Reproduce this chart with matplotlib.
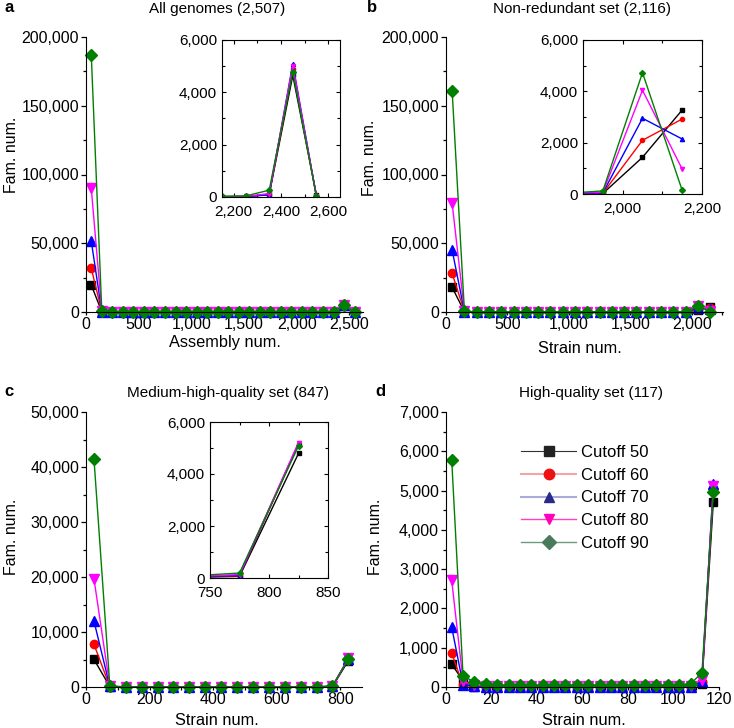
import numpy as np
import matplotlib
matplotlib.use('Agg')
import matplotlib.pyplot as plt
from matplotlib.ticker import MultipleLocator, FuncFormatter
from matplotlib.lines import Line2D

plt.rcParams['font.family'] = ['Liberation Sans', 'DejaVu Sans']
plt.rcParams['font.size'] = 11

W, H = 734, 728

# 컷오프 이름 / 색
cutoffs = ['Cutoff 50', 'Cutoff 60', 'Cutoff 70', 'Cutoff 80', 'Cutoff 90']
colors = ['black', '#ff0000', '#0000ff', '#ff00ff', '#008000']
markers = ['s', 'o', '^', 'v', 'D']
msizes = [5.5, 6, 6.5, 6.5, 6]

# a: All genomes (2,507), 100개 단위 구간
x_a = [50, 150, 250, 350, 450, 550, 650, 750, 850, 950, 1050, 1150, 1250,
       1350, 1450, 1550, 1650, 1750, 1850, 1950, 2050, 2150, 2250, 2350, 2450, 2550]
a_50 = [19600, 200, 8, 4, 4, 4, 4, 4, 4, 4, 4, 4, 4, 4, 4, 4, 4, 4, 4, 4, 5, 8, 15, 100, 4650, 80]
a_60 = [31800, 250, 10, 5, 5, 5, 5, 5, 5, 5, 5, 5, 5, 5, 5, 5, 5, 5, 5, 5, 6, 10, 20, 90, 4900, 40]
a_70 = [51600, 300, 15, 8, 8, 8, 8, 8, 8, 8, 8, 8, 8, 8, 8, 8, 8, 8, 8, 8, 8, 10, 20, 80, 5090, 20]
a_80 = [90000, 400, 20, 10, 10, 10, 10, 10, 10, 10, 10, 10, 10, 10, 10, 10, 10, 10, 10, 10, 10, 15, 25, 130, 5020, 30]
a_90 = [187000, 600, 30, 20, 20, 20, 20, 20, 20, 20, 20, 20, 20, 20, 20, 20, 20, 20, 20, 20, 20, 30, 40, 260, 4780, 30]

# b: Non-redundant set (2,116)
x_b = [50, 150, 250, 350, 450, 550, 650, 750, 850, 950, 1050, 1150, 1250,
       1350, 1450, 1550, 1650, 1750, 1850, 1950, 2050, 2150]
b_50 = [17900, 200, 8, 4, 4, 4, 4, 4, 4, 4, 4, 4, 4, 4, 4, 4, 4, 4, 4, 20, 1430, 3273]
b_60 = [28100, 250, 10, 5, 5, 5, 5, 5, 5, 5, 5, 5, 5, 5, 5, 5, 5, 5, 6, 30, 2092, 2922]
b_70 = [45000, 300, 15, 8, 8, 8, 8, 8, 8, 8, 8, 8, 8, 8, 8, 8, 8, 8, 8, 40, 2950, 2143]
b_80 = [79000, 400, 20, 10, 10, 10, 10, 10, 10, 10, 10, 10, 10, 10, 10, 10, 10, 10, 20, 65, 4040, 974]
b_90 = [160800, 600, 30, 20, 20, 20, 20, 20, 20, 20, 20, 20, 20, 20, 20, 20, 20, 20, 20, 120, 4726, 144]

# c: Medium-high-quality set (847), 50개 단위
x_c = [25, 75, 125, 175, 225, 275, 325, 375, 425, 475, 525, 575, 625, 675, 725, 775, 825]
c_50 = [5030, 60, 10, 8, 8, 8, 8, 8, 8, 8, 8, 8, 8, 8, 20, 60, 4790]
c_60 = [7760, 80, 15, 10, 10, 10, 10, 10, 10, 10, 10, 10, 10, 10, 30, 80, 5150]
c_70 = [12000, 100, 20, 12, 12, 12, 12, 12, 12, 12, 12, 12, 12, 12, 35, 100, 5180]
c_80 = [19700, 120, 25, 15, 15, 15, 15, 15, 15, 15, 15, 15, 15, 15, 45, 130, 5210]
c_90 = [41530, 180, 40, 30, 30, 30, 30, 30, 30, 30, 30, 30, 30, 30, 60, 190, 5080]

# d: High-quality set (117), 5개 단위
x_d = [2.5, 7.5, 12.5, 17.5, 22.5, 27.5, 32.5, 37.5, 42.5, 47.5, 52.5, 57.5,
       62.5, 67.5, 72.5, 77.5, 82.5, 87.5, 92.5, 97.5, 102.5, 107.5, 112.5, 117.5]
d_50 = [578, 160, 10, 5, 5, 5, 5, 5, 5, 5, 5, 5, 5, 5, 5, 5, 5, 5, 5, 5, 5, 8, 86, 4709]
d_60 = [865, 40, 15, 8, 8, 8, 8, 8, 8, 8, 8, 8, 8, 8, 8, 8, 8, 8, 8, 8, 8, 10, 120, 5040]
d_70 = [1527, 60, 20, 10, 10, 10, 10, 10, 10, 10, 10, 10, 10, 10, 10, 10, 10, 10, 10, 10, 10, 5, 150, 5177]
d_80 = [2716, 150, 40, 25, 20, 20, 20, 20, 20, 20, 20, 20, 20, 20, 20, 20, 20, 20, 20, 20, 20, 30, 188, 5109]
d_90 = [5790, 280, 127, 69, 50, 40, 40, 40, 40, 40, 40, 40, 40, 40, 40, 40, 40, 40, 40, 40, 45, 86, 356, 4964]


def rect(l, t, r, b):
    # 픽셀 좌표 -> figure 좌표
    return [l / W, 1 - b / H, (r - l) / W, (b - t) / H]


comma = FuncFormatter(lambda v, p: f'{int(round(v)):,}')


def mainAxes(fig, box, x, ys, xmax, xmaj, xmin, ymax, ymaj, ymin):
    ax = fig.add_axes(box)
    for y, c, m, ms in zip(ys, colors, markers, msizes):
        ax.plot(x, y, color=c, marker=m, ms=ms, lw=1.0, clip_on=False)
    ax.set_xlim(0, xmax)
    ax.set_ylim(0, ymax)
    ax.spines['top'].set_visible(False)
    ax.spines['right'].set_visible(False)
    ax.xaxis.set_major_locator(MultipleLocator(xmaj))
    ax.xaxis.set_minor_locator(MultipleLocator(xmin))
    ax.yaxis.set_major_locator(MultipleLocator(ymaj))
    ax.yaxis.set_minor_locator(MultipleLocator(ymin))
    ax.xaxis.set_major_formatter(comma)
    ax.yaxis.set_major_formatter(comma)
    ax.tick_params(which='both', direction='out', width=0.9, labelsize=11.5)
    ax.tick_params(axis='x', which='major', length=2.5, pad=0.8)
    ax.tick_params(axis='y', which='major', length=3.5, pad=1.5)
    ax.tick_params(which='minor', length=2)
    return ax


def insetAxes(fig, box, x, ys, xlo, xhi, xmaj, xmin):
    ax = fig.add_axes(box)
    for y, c, m in zip(ys, colors, markers):
        ax.plot(x, y, color=c, marker=m, ms=3, lw=1.0)
    ax.set_xlim(xlo, xhi)
    ax.set_ylim(0, 6000)
    ax.xaxis.set_major_locator(MultipleLocator(xmaj))
    ax.xaxis.set_minor_locator(MultipleLocator(xmin))
    ax.yaxis.set_major_locator(MultipleLocator(2000))
    ax.yaxis.set_minor_locator(MultipleLocator(1000))
    ax.xaxis.set_major_formatter(comma)
    ax.yaxis.set_major_formatter(comma)
    ax.tick_params(which='both', direction='in', top=True, right=True, width=0.8, labelsize=11)
    ax.tick_params(which='major', length=3)
    ax.tick_params(axis='x', which='major', pad=6)
    ax.tick_params(axis='y', which='major', pad=3.5)
    ax.tick_params(which='minor', length=2)
    return ax


fig = plt.figure(figsize=(W / 100, H / 100), dpi=100)

# a
mainAxes(fig, rect(86, 37, 363, 312), x_a, [a_50, a_60, a_70, a_80, a_90],
         2630, 500, 250, 200000, 50000, 25000)
insetAxes(fig, rect(222, 40, 340, 197), x_a, [a_50, a_60, a_70, a_80, a_90],
          2150, 2650, 200, 100)

# b
mainAxes(fig, rect(446, 37, 723, 312), x_b, [b_50, b_60, b_70, b_80, b_90],
         2255, 500, 250, 200000, 50000, 25000)
insetAxes(fig, rect(583, 40, 702, 194), x_b, [b_50, b_60, b_70, b_80, b_90],
          1900, 2200, 200, 100)

# c
mainAxes(fig, rect(86, 412, 362, 687), x_c, [c_50, c_60, c_70, c_80, c_90],
         868, 200, 100, 50000, 10000, 5000)
insetAxes(fig, rect(210, 422, 328, 578), x_c, [c_50, c_60, c_70, c_80, c_90],
          750, 850, 50, 25)

# d
axd = mainAxes(fig, rect(446, 412, 719, 687), x_d, [d_50, d_60, d_70, d_80, d_90],
               120, 20, 10, 7000, 1000, 500)

# 범례 (마커와 선 색이 그래프와 다름)
leg_lines = ['#333333', '#f4a4a4', '#a8acd8', '#ff44bb', '#6f9a80']
leg_marks = ['#222222', '#ee1111', '#2a2a8a', '#ff00bb', '#4a7a5e']
leg_lw = [0.8, 1.5, 1.5, 1.0, 1.0]
handles = [Line2D([], [], color=lc, lw=lw, marker=m, ms=7.5, mfc=mc, mec=mc)
           for lc, mc, lw, m in zip(leg_lines, leg_marks, leg_lw, markers)]
fig.legend(handles, cutoffs, loc='upper left', bbox_to_anchor=(521 / W, 1 - 445 / H),
           frameon=False, fontsize=12, handlelength=3.3, handletextpad=0.3,
           labelspacing=0.46, borderpad=0, borderaxespad=0)

# 제목, 라벨
fig.text(217 / W, 1 - 9 / H, 'All genomes (2,507)', ha='center', va='center', fontsize=11)
fig.text(582 / W, 1 - 9 / H, 'Non-redundant set (2,116)', ha='center', va='center', fontsize=11)
fig.text(228 / W, 1 - 393 / H, 'Medium-high-quality set (847)', ha='center', va='center', fontsize=11)
fig.text(591 / W, 1 - 393 / H, 'High-quality set (117)', ha='center', va='center', fontsize=11)

for s, px, py in [('a', 9, 8), ('b', 372, 8), ('c', 9, 392), ('d', 380, 392)]:
    fig.text(px / W, 1 - py / H, s, ha='center', va='center', fontsize=12, weight='bold')

for px, py in [(12, 155), (370, 158), (12, 537), (375, 537)]:
    fig.text(px / W, 1 - py / H, 'Fam. num.', ha='center', va='center', rotation=90, fontsize=11.5)

for s, px, py in [('Assembly num.', 225, 347), ('Strain num.', 580, 353),
                  ('Strain num.', 217, 725), ('Strain num.', 584, 725)]:
    fig.text(px / W, 1 - py / H, s, ha='center', va='baseline', fontsize=11.8)

plt.savefig('out.png', dpi=100)
